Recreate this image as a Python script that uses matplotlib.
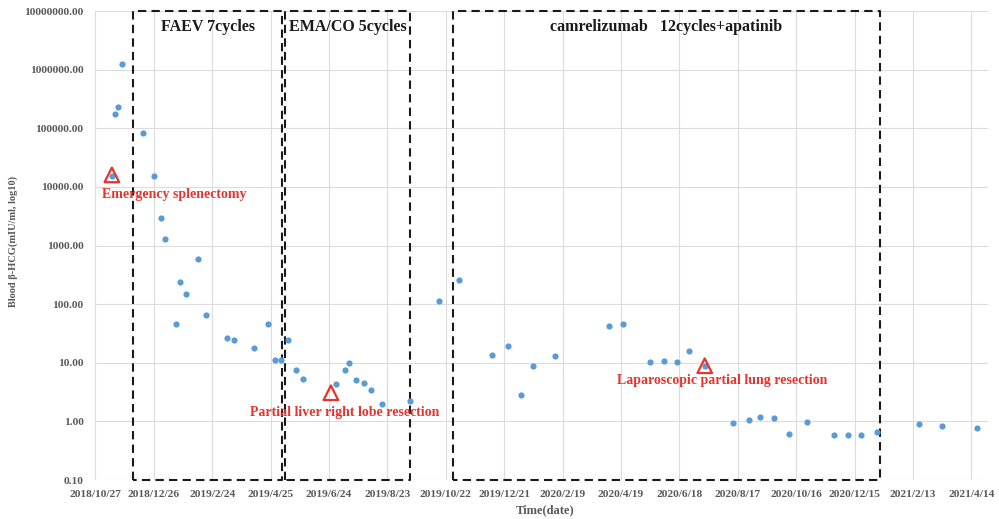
import matplotlib
matplotlib.use("Agg")
import matplotlib.pyplot as plt
import matplotlib.dates as mdates
import numpy as np
import datetime as dt

# ---- data ----
dates = ["2018-11-13", "2018-11-16", "2018-11-19", "2018-11-23", "2018-12-15", "2018-12-26",
         "2019-01-02", "2019-01-07", "2019-01-18", "2019-01-22", "2019-01-28", "2019-02-10",
         "2019-02-18", "2019-03-11", "2019-03-18", "2019-04-08", "2019-04-22", "2019-04-30",
         "2019-05-06", "2019-05-13", "2019-05-21", "2019-05-28", "2019-07-01", "2019-07-10",
         "2019-07-15", "2019-07-22", "2019-07-30", "2019-08-06", "2019-08-17", "2019-09-15",
         "2019-10-15", "2019-11-05", "2019-12-09", "2019-12-25", "2020-01-07", "2020-01-20",
         "2020-02-11", "2020-04-07", "2020-04-21", "2020-05-19", "2020-06-02", "2020-06-16",
         "2020-06-28", "2020-07-14", "2020-08-12", "2020-08-28", "2020-09-09", "2020-09-23",
         "2020-10-09", "2020-10-27", "2020-11-24", "2020-12-08", "2020-12-22", "2021-01-07",
         "2021-02-19", "2021-03-15", "2021-04-20"]
hcg = [15500, 177000, 233000, 1230000, 84000, 15500,
       3000, 1270, 45, 238, 147, 600,
       65, 26, 24.4, 18, 45.8, 11.3,
       11.3, 24.4, 7.5, 5.3, 4.34, 7.5,
       10.0, 5.1, 4.46, 3.39, 1.95, 2.22,
       113, 255, 13.4, 19.5, 2.82, 8.8,
       12.9, 41.8, 46.4, 10.2, 10.7, 10.4,
       15.7, 8.9, 0.94, 1.04, 1.17, 1.14,
       0.61, 0.975, 0.593, 0.578, 0.593, 0.66,
       0.91, 0.82, 0.76]

surgery_dates = ["2018-11-13", "2019-06-26", "2020-07-14"]
surgery_values = [16000, 3.08, 8.9]
surgery_labels = ["Emergency splenectomy", "Partial liver right lobe resection",
                  "Laparoscopic partial lung resection"]
surgery_label_pos = [("2018-11-03", 7300), ("2019-04-04", 1.4), ("2020-04-15", 4.9)]

regimen_labels = ["FAEV 7cycles", "EMA/CO 5cycles", "camrelizumab   12cycles+apatinib"]
regimen_start = ["2018-12-05", "2019-05-10", "2019-10-29"]
regimen_end = ["2019-05-07", "2019-09-15", "2021-01-10"]

tick_dates = ["2018-10-27", "2018-12-26", "2019-02-24", "2019-04-25", "2019-06-24",
              "2019-08-23", "2019-10-22", "2019-12-21", "2020-02-19", "2020-04-19",
              "2020-06-18", "2020-08-17", "2020-10-16", "2020-12-15", "2021-02-13",
              "2021-04-14"]
ytick_vals = [0.1, 1, 10, 100, 1000, 10000, 100000, 1000000, 10000000]

def d(s):
    return dt.datetime.strptime(s, "%Y-%m-%d")

serif = ["Liberation Serif", "DejaVu Serif"]
gray = "#595959"
red = "#e8322c"
blue = "#5b9bd5"

fig = plt.figure(figsize=(9.99, 5.19), dpi=100)
ax = fig.add_axes([0.0954, 0.0751, 0.8936, 0.9037])

ax.set_yscale("log")
ax.set_ylim(0.1, 1e7)
ax.set_xlim(d("2018-10-27"), d("2021-05-01"))

ax.scatter([d(s) for s in dates], hcg, s=20, color=blue, zorder=3, linewidths=0)

ax.scatter([d(s) for s in surgery_dates], surgery_values, marker="^", s=110,
           facecolors="none", edgecolors=red, linewidths=1.6, zorder=4)
for lab, (ds, yv) in zip(surgery_labels, surgery_label_pos):
    ax.text(d(ds), yv, lab, color=red, fontsize=10, fontweight="bold",
            family=serif, ha="left", va="center", zorder=5)

for lab, s0, s1 in zip(regimen_labels, regimen_start, regimen_end):
    x0, x1 = mdates.date2num(d(s0)), mdates.date2num(d(s1))
    ax.plot([x0, x0, x1, x1, x0], [0.1, 1e7, 1e7, 0.1, 0.1], ls=(0, (4, 2.5)),
            color="#1a1a1a", lw=1.5, zorder=2, clip_on=False)
    ax.text((x0 + x1) / 2, 5.3e6, lab, ha="center", va="center", fontsize=11.5,
            fontweight="bold", family=serif, color="#1a1a1a")

ax.set_xticks([d(s) for s in tick_dates])
ax.set_xticklabels([f"{d(s).year}/{d(s).month}/{d(s).day}" for s in tick_dates])
ax.set_yticks(ytick_vals)
ax.set_yticklabels([f"{v:.2f}" for v in ytick_vals])
ax.yaxis.set_minor_locator(matplotlib.ticker.NullLocator())
for lbl in ax.get_xticklabels() + ax.get_yticklabels():
    lbl.set_family(serif)
    lbl.set_fontweight("bold")
    lbl.set_fontsize(8.2)
    lbl.set_color(gray)
ax.tick_params(axis="y", length=0, pad=8.5)
ax.tick_params(axis="x", length=0, pad=7)

ax.grid(True, color="#dcdcdc", lw=0.8, zorder=0)
for sp in ax.spines.values():
    sp.set_visible(False)

ax.set_xlabel("Time(date)", family=serif, fontweight="bold", fontsize=9, color=gray,
              va="center")
ax.xaxis.set_label_coords((545 - 95.3) / 892.7, -(510 - 480) / 469.0)
ax.set_ylabel("Blood β-HCG(mIU/ml, log10)", family=serif, fontweight="bold", fontsize=7.5,
              color=gray, va="center")
ax.yaxis.set_label_coords((13 - 95.3) / 892.7, (480 - 241) / 469.0)

fig.savefig("out.png", dpi=100)
